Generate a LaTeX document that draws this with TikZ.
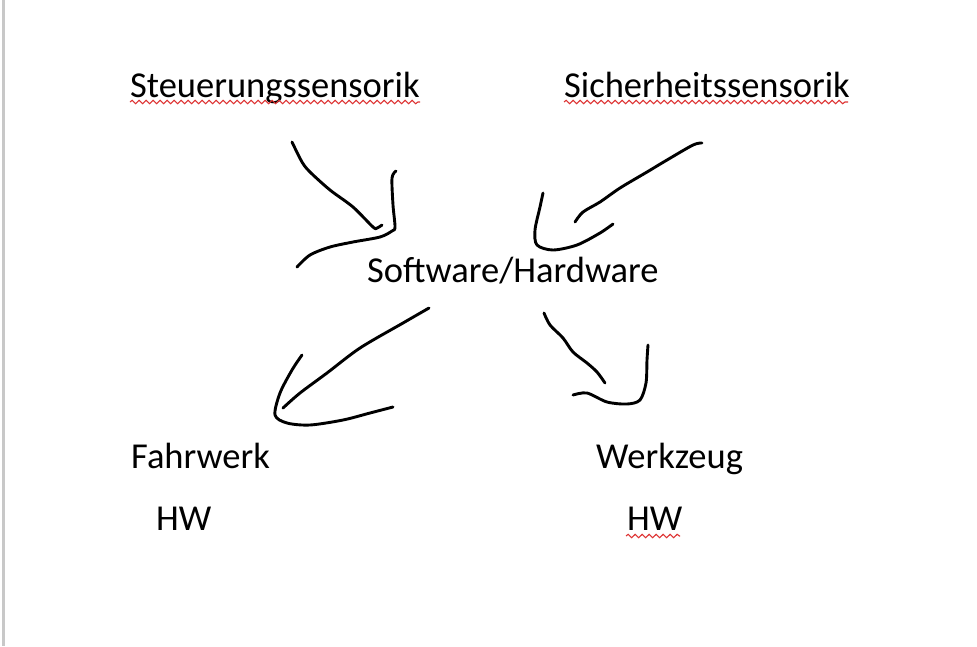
\documentclass[tikz,border=0pt]{standalone}
\usepackage{fontspec}
\setmainfont{Carlito}
\usetikzlibrary{decorations.pathmorphing}
\definecolor{spellred}{RGB}{222,52,52}
\definecolor{pagegray}{RGB}{200,200,200}
\tikzset{
 label/.style={anchor=base west,inner sep=0pt,font=\fontsize{36.5}{42}\selectfont},
 stroke/.style={black,line width=2.9pt,line cap=round,line join=round},
 wavy/.style={spellred,line width=1.1pt,decorate,decoration={snake,segment length=7pt,amplitude=1.7pt}}
}
\begin{document}
\begin{tikzpicture}[x=1pt,y=-1pt]
 \useasboundingbox[fill=white](0,0) rectangle (977,646);
 \fill[pagegray](2,0) rectangle (5,646);
 % texts
 \node[label] (steuer) at (130,97) {Steuerungssensorik};
 \node[label] (sicher) at (564,97) {Sicherheitssensorik};
 \node[label] (center) at (367,282) {Software/Hardware};
 \node[label] (fahr) at (131,468) {Fahrwerk};
 \node[label] (werk) at (596,468) {Werkzeug};
 \node[label] (fahrhw) at (156,530) {HW};
 \node[label] (werkhw) at (627,530) {HW};
 % spelling marks
 \draw[wavy](130,102)--(420,102);
 \draw[wavy](564,102)--(848,102);
 \draw[wavy](626,536)--(680,536);
 % arrow from Steuerungssensorik
 \draw[stroke] plot[smooth] coordinates {(292,142)(302,162)(310,172)(330,190)(353,207)(373,227)(377,228)(382,225)};
 \draw[stroke] plot[smooth] coordinates {(396,171)(392,178)(393,205)(395,227)(392,231)(380,237)(353,242)(330,247)(310,255)(297,267)};
 % arrow from Sicherheitssensorik
 \draw[stroke] plot[smooth] coordinates {(702,143)(693,145)(667,160)(647,172)(620,188)(600,202)(583,212)(575,222)};
 \draw[stroke] plot[smooth] coordinates {(543,193)(540,207)(535,230)(537,245)(553,250)(577,245)(600,233)(613,224)};
 % arrow to Fahrwerk
 \draw[stroke] plot[smooth] coordinates {(429,308)(403,323)(360,348)(327,373)(300,393)(283,408)};
 \draw[stroke] plot[smooth] coordinates {(302,355)(292,370)(280,393)(275,415)(287,423)(310,425)(343,420)(370,413)(393,407)};
 % arrow to Werkzeug
 \draw[stroke] plot[smooth] coordinates {(544,313)(550,325)(563,338)(573,352)(587,363)(597,372)(605,383)};
 \draw[stroke] plot[smooth] coordinates {(648,345)(647,360)(646,383)(640,400)(627,404)(607,402)(587,393)(573,395)};
\end{tikzpicture}
\end{document}
